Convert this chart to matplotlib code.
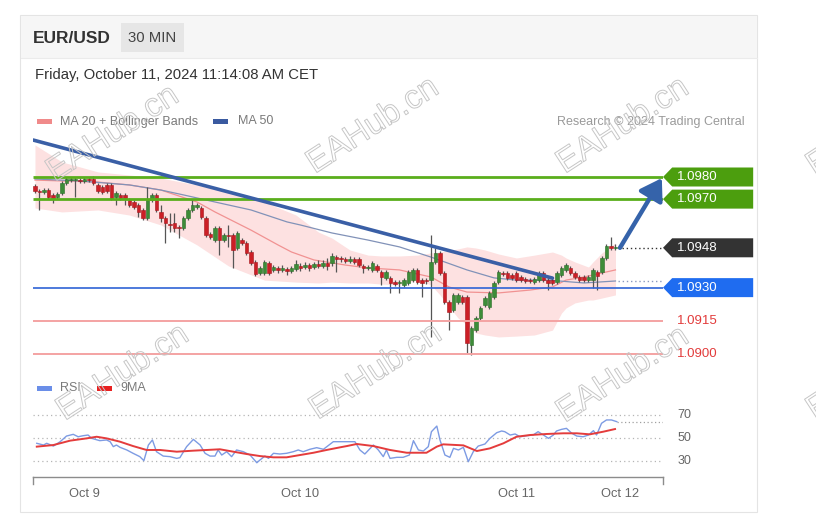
import matplotlib
matplotlib.use('Agg')
import matplotlib.pyplot as plt
from matplotlib.patches import Rectangle, Polygon, FancyArrowPatch
import matplotlib.patheffects as pe
import numpy as np

plt.rcParams['font.family'] = ['Liberation Sans', 'DejaVu Sans']

# ---------------- data (30-min EUR/USD candles, Oct 8 18:30 -> Oct 11 11:00) ----------------
opens = [1.09759, 1.09737, 1.09732, 1.09741, 1.09719, 1.09710, 1.09728, 1.09773, 1.09786, 1.09786,
         1.09786, 1.09782, 1.09791, 1.09791, 1.09764, 1.09755, 1.09764, 1.09764, 1.09710, 1.09719,
         1.09719, 1.09696, 1.09687, 1.09673, 1.09651, 1.09615, 1.09696, 1.09719, 1.09642, 1.09615,
         1.09588, 1.09592, 1.09574, 1.09570, 1.09615, 1.09651, 1.09664, 1.09660, 1.09615, 1.09542,
         1.09515, 1.09570, 1.09515, 1.09538, 1.09538, 1.09479, 1.09515, 1.09502, 1.09461, 1.09416,
         1.09366, 1.09366, 1.09411, 1.09380, 1.09389, 1.09380, 1.09384, 1.09375, 1.09384, 1.09398,
         1.09393, 1.09402, 1.09393, 1.09407, 1.09398, 1.09411, 1.09411, 1.09438, 1.09434, 1.09429,
         1.09420, 1.09429, 1.09429, 1.09398, 1.09389, 1.09380, 1.09398, 1.09371, 1.09344, 1.09344,
         1.09325, 1.09321, 1.09312, 1.09321, 1.09334, 1.09380, 1.09334, 1.09334, 1.09334, 1.09416,
         1.09457, 1.09366, 1.09235, 1.09199, 1.09235, 1.09258, 1.09258, 1.09041, 1.09108, 1.09163,
         1.09221, 1.09212, 1.09258, 1.09325, 1.09366, 1.09366, 1.09357, 1.09366, 1.09348, 1.09339,
         1.09334, 1.09325, 1.09334, 1.09366, 1.09334, 1.09334, 1.09325, 1.09357, 1.09380, 1.09389,
         1.09366, 1.09348, 1.09348, 1.09334, 1.09334, 1.09371, 1.09371, 1.09434, 1.09488, 1.09479]
closes = [1.09737, 1.09732, 1.09741, 1.09710, 1.09705, 1.09723, 1.09773, 1.09791, 1.09791, 1.09791,
          1.09782, 1.09791, 1.09786, 1.09773, 1.09737, 1.09732, 1.09737, 1.09705, 1.09728, 1.09705,
          1.09705, 1.09673, 1.09664, 1.09642, 1.09615, 1.09696, 1.09719, 1.09651, 1.09615, 1.09592,
          1.09583, 1.09570, 1.09570, 1.09615, 1.09651, 1.09673, 1.09673, 1.09619, 1.09538, 1.09529,
          1.09570, 1.09515, 1.09538, 1.09533, 1.09470, 1.09547, 1.09502, 1.09457, 1.09411, 1.09362,
          1.09389, 1.09416, 1.09366, 1.09393, 1.09380, 1.09389, 1.09375, 1.09389, 1.09407, 1.09389,
          1.09402, 1.09389, 1.09407, 1.09398, 1.09411, 1.09398, 1.09443, 1.09429, 1.09429, 1.09420,
          1.09429, 1.09416, 1.09402, 1.09389, 1.09393, 1.09411, 1.09380, 1.09348, 1.09371, 1.09321,
          1.09316, 1.09325, 1.09334, 1.09371, 1.09380, 1.09325, 1.09321, 1.09330, 1.09416, 1.09457,
          1.09366, 1.09235, 1.09190, 1.09267, 1.09267, 1.09235, 1.09050, 1.09118, 1.09163, 1.09208,
          1.09253, 1.09276, 1.09321, 1.09371, 1.09362, 1.09344, 1.09344, 1.09334, 1.09334, 1.09330,
          1.09330, 1.09339, 1.09366, 1.09334, 1.09321, 1.09321, 1.09366, 1.09389, 1.09402, 1.09366,
          1.09348, 1.09334, 1.09334, 1.09348, 1.09380, 1.09353, 1.09434, 1.09488, 1.09479, 1.09480]
highs = [1.09768, 1.09746, 1.09750, 1.09750, 1.09728, 1.09732, 1.09782, 1.09800, 1.09800, 1.09800,
         1.09795, 1.09800, 1.09800, 1.09805, 1.09773, 1.09764, 1.09773, 1.09773, 1.09737, 1.09728,
         1.09728, 1.09705, 1.09696, 1.09683, 1.09660, 1.09755, 1.09728, 1.09728, 1.09673, 1.09624,
         1.09637, 1.09637, 1.09583, 1.09624, 1.09660, 1.09696, 1.09683, 1.09669, 1.09624, 1.09551,
         1.09579, 1.09579, 1.09547, 1.09583, 1.09547, 1.09556, 1.09524, 1.09511, 1.09470, 1.09425,
         1.09398, 1.09425, 1.09420, 1.09402, 1.09398, 1.09402, 1.09393, 1.09398, 1.09425, 1.09411,
         1.09416, 1.09411, 1.09416, 1.09425, 1.09425, 1.09434, 1.09457, 1.09447, 1.09443, 1.09438,
         1.09443, 1.09438, 1.09438, 1.09407, 1.09402, 1.09420, 1.09407, 1.09380, 1.09380, 1.09353,
         1.09334, 1.09334, 1.09344, 1.09380, 1.09389, 1.09389, 1.09344, 1.09344, 1.09538, 1.09479,
         1.09466, 1.09375, 1.09244, 1.09276, 1.09276, 1.09267, 1.09267, 1.09127, 1.09172, 1.09217,
         1.09262, 1.09285, 1.09330, 1.09380, 1.09375, 1.09375, 1.09366, 1.09375, 1.09357, 1.09348,
         1.09344, 1.09348, 1.09375, 1.09375, 1.09344, 1.09344, 1.09375, 1.09398, 1.09411, 1.09398,
         1.09375, 1.09357, 1.09357, 1.09357, 1.09389, 1.09380, 1.09443, 1.09497, 1.09529, 1.09497]
lows = [1.09728, 1.09651, 1.09723, 1.09701, 1.09683, 1.09701, 1.09719, 1.09764, 1.09777, 1.09710,
        1.09773, 1.09773, 1.09777, 1.09764, 1.09728, 1.09723, 1.09728, 1.09696, 1.09673, 1.09696,
        1.09673, 1.09664, 1.09655, 1.09619, 1.09606, 1.09606, 1.09687, 1.09642, 1.09597, 1.09502,
        1.09551, 1.09551, 1.09524, 1.09560, 1.09606, 1.09642, 1.09655, 1.09610, 1.09529, 1.09520,
        1.09506, 1.09447, 1.09506, 1.09484, 1.09389, 1.09470, 1.09493, 1.09447, 1.09402, 1.09353,
        1.09357, 1.09357, 1.09357, 1.09371, 1.09366, 1.09371, 1.09357, 1.09366, 1.09375, 1.09375,
        1.09384, 1.09375, 1.09384, 1.09389, 1.09389, 1.09380, 1.09398, 1.09371, 1.09416, 1.09411,
        1.09411, 1.09407, 1.09393, 1.09366, 1.09380, 1.09371, 1.09371, 1.09312, 1.09334, 1.09276,
        1.09307, 1.09276, 1.09303, 1.09312, 1.09325, 1.09316, 1.09258, 1.09316, 1.09077, 1.09407,
        1.09357, 1.09226, 1.09108, 1.09190, 1.09226, 1.09226, 1.09005, 1.08995, 1.09099, 1.09154,
        1.09212, 1.09203, 1.09249, 1.09316, 1.09353, 1.09334, 1.09334, 1.09325, 1.09325, 1.09321,
        1.09321, 1.09316, 1.09325, 1.09325, 1.09289, 1.09312, 1.09316, 1.09348, 1.09371, 1.09357,
        1.09339, 1.09325, 1.09325, 1.09325, 1.09298, 1.09289, 1.09362, 1.09425, 1.09470, 1.09470]

# indicator traces (bar position -> value)
band_x = [0, 6, 14, 21, 28, 36, 43, 51, 58, 63, 66, 70, 74, 77, 81, 85, 88, 90, 94, 96, 98, 100,
          103, 107, 111, 115, 117, 118, 120, 123, 124, 126, 129]
band_upper = [1.09945, 1.09868, 1.09823, 1.09809, 1.09795, 1.09764, 1.09732, 1.09687, 1.09628,
              1.09551, 1.09524, 1.09470, 1.09447, 1.09443, 1.09443, 1.09447, 1.09457, 1.09461,
              1.09475, 1.09484, 1.09479, 1.09470, 1.09452, 1.09434, 1.09447, 1.09461, 1.09447,
              1.09434, 1.09416, 1.09393, 1.09416, 1.09457, 1.09502]
band_lower = [1.09660, 1.09642, 1.09651, 1.09628, 1.09583, 1.09493, 1.09398, 1.09334, 1.09325,
              1.09321, 1.09325, 1.09321, 1.09321, 1.09316, 1.09312, 1.09334, 1.09312, 1.09267,
              1.09163, 1.09131, 1.09095, 1.09086, 1.09077, 1.09081, 1.09086, 1.09108, 1.09185,
              1.09208, 1.09231, 1.09244, 1.09244, 1.09253, 1.09267]
ma20_x = [0, 14, 21, 28, 36, 40, 48, 54, 57, 62, 69, 74, 81, 88, 92, 96, 103, 110, 115, 118, 122, 129]
ma20 = [1.09786, 1.09777, 1.09764, 1.09741, 1.09687, 1.09642, 1.09560, 1.09493, 1.09461, 1.09425,
        1.09402, 1.09389, 1.09380, 1.09348, 1.09303, 1.09280, 1.09276, 1.09289, 1.09303, 1.09334,
        1.09348, 1.09380]
ma50_x = [0, 10, 21, 28, 33, 40, 48, 56, 59, 66, 74, 81, 88, 96, 102, 107, 114, 122, 129]
ma50 = [1.09791, 1.09782, 1.09764, 1.09741, 1.09719, 1.09687, 1.09651, 1.09597, 1.09583, 1.09547,
        1.09515, 1.09484, 1.09438, 1.09380, 1.09344, 1.09334, 1.09334, 1.09321, 1.09330]
trend_x = [-0.4, 115.0]
trend_y = [1.09967, 1.09343]
levels_green = [1.0980, 1.0970]
level_blue = 1.0930
levels_red = [1.0915, 1.0900]
last_price = 1.0948
target_price = 1.0980

rsi_x = [0.4, 1.9, 2.6, 4.1, 5.6, 7.0, 8.5, 9.6, 10.7, 11.8, 12.6, 14.4, 15.9, 16.7, 17.4, 18.1,
         18.9, 20.4, 21.8, 23.3, 24.2, 25.2, 26.1, 27.0, 28.5, 30.0, 31.5, 32.2, 33.7, 35.2, 36.7,
         37.8, 38.9, 40.0, 40.7, 41.5, 42.6, 43.7, 44.8, 46.3, 47.8, 49.3, 50.0, 51.1, 51.9, 53.0,
         54.4, 55.9, 57.4, 58.5, 59.6, 61.1, 62.6, 64.1, 66.3, 67.8, 69.6, 71.1, 72.2, 73.3, 75.2,
         76.3, 77.4, 78.1, 78.9, 80.4, 81.8, 83.2, 84.1, 85.2, 86.3, 87.4, 88.1, 89.3, 90.0, 91.1,
         92.2, 93.0, 94.1, 95.2, 96.3, 97.4, 98.5, 100.0, 101.1, 102.6, 103.7, 104.4, 105.6, 106.7,
         107.8, 109.3, 110.7, 111.8, 113.0, 114.1, 115.2, 115.9, 117.0, 118.1, 119.3, 120.4, 121.8,
         123.0, 124.1, 124.8, 125.9, 127.0, 128.1, 129.3]
rsi = [45.4, 43.9, 45.4, 43.0, 46.8, 51.7, 53.2, 51.1, 52.0, 52.6, 49.7, 47.7, 48.3, 46.8, 42.5, 43.9,
       41.9, 39.6, 36.7, 33.8, 30.3, 43.9, 48.3, 38.1, 34.3, 33.8, 32.3, 32.9, 42.5, 48.8, 43.9,
       36.7, 34.3, 34.3, 39.6, 35.2, 38.1, 33.8, 39.6, 38.1, 35.2, 28.5, 30.9, 34.3, 32.3, 36.7,
       36.1, 36.7, 38.1, 39.6, 38.1, 40.2, 41.6, 40.2, 46.8, 46.8, 46.8, 46.8, 39.6, 36.1, 43.9,
       39.6, 33.8, 39.6, 32.3, 33.2, 33.2, 35.2, 47.7, 39.6, 38.7, 42.5, 55.5, 60.4, 48.3, 35.2,
       33.2, 41.0, 39.6, 41.9, 29.4, 38.1, 43.0, 44.8, 49.7, 54.6, 56.1, 55.5, 52.6, 53.5,
       51.1, 52.0, 52.6, 55.5, 52.6, 49.7, 52.6, 56.1, 57.5, 58.4, 54.1, 51.7, 51.1,
       52.6, 56.4, 52.6, 62.8, 65.7, 65.7, 64.2]
ma9_x = [0.4, 4.1, 7.8, 11.5, 13.7, 15.9, 18.9, 21.8, 24.8, 27.8, 31.5, 35.2, 38.2, 41.1, 44.1,
         47.0, 50.0, 53.0, 55.9, 58.9, 61.9, 64.8, 67.8, 69.3, 71.5, 75.2, 78.9, 82.6, 87.0, 89.3,
         90.7, 95.2, 98.2, 101.1, 104.1, 107.0, 110.0, 113.7, 117.4, 120.4, 123.3, 126.3, 128.9]
ma9 = [42.5, 43.9, 47.7, 49.7, 51.1, 49.7, 46.8, 43.0, 39.6, 39.6, 38.1, 39.0, 39.6, 40.2, 38.1,
       36.1, 34.3, 33.2, 33.2, 35.2, 37.2, 39.6, 41.9, 43.0, 44.8, 43.0, 39.6, 37.2, 37.2, 42.5,
       44.5, 43.6, 38.7, 41.0, 45.4, 51.1, 52.6, 53.5, 54.1, 54.1, 53.2, 55.5, 57.8]
rsi_levels = [30, 50, 70]
tick_pos = [11, 59, 107, 130]
tick_labels = ['Oct 9', 'Oct 10', 'Oct 11', 'Oct 12']

# ---------------- figure ----------------
W, H = 816, 518
fig = plt.figure(figsize=(W / 100, H / 100), dpi=100)
fig.patch.set_facecolor('white')


def fr(x0, y0, x1, y1):
    return [x0 / W, 1 - y1 / H, (x1 - x0) / W, (y1 - y0) / H]


bg = fig.add_axes([0, 0, 1, 1], zorder=0)
bg.set_xlim(0, W)
bg.set_ylim(H, 0)
bg.axis('off')

# card + header
bg.add_patch(Rectangle((20, 15), 737, 497, facecolor='white', edgecolor='#e4e4e4', lw=0.8))
bg.add_patch(Rectangle((20.5, 15.5), 736, 42.5, facecolor='#f6f6f6', edgecolor='none'))
bg.plot([20.5, 756.5], [58, 58], color='#ebebeb', lw=0.8)
bg.add_patch(Rectangle((121, 23), 63, 29, facecolor='#e6e6e6', edgecolor='none'))
bg.text(33, 38.5, 'EUR/USD', fontsize=12.5, fontweight='bold', color='#333333', va='center', ha='left')
bg.text(152.5, 38.5, '30 MIN', fontsize=10.7, color='#444444', va='center', ha='center')
bg.text(35, 75, 'Friday, October 11, 2024 11:14:08 AM CET', fontsize=10.7, color='#333333',
        va='center', ha='left')

# legends
bg.add_patch(Rectangle((37, 118.5), 15, 5, facecolor='#f08a8a', edgecolor='none'))
bg.text(60, 121.5, 'MA 20 + Bollinger Bands', fontsize=9, color='#7a7a7a', va='center')
bg.add_patch(Rectangle((213, 118.5), 15, 5, facecolor='#3a5aa0', edgecolor='none'))
bg.text(238, 121.5, 'MA 50', fontsize=9, color='#7a7a7a', va='center')
bg.text(745, 121.5, 'Research © 2024 Trading Central', fontsize=9, color='#9a9a9a', va='center', ha='right')
bg.add_patch(Rectangle((37, 385.5), 15, 5, facecolor='#6a8ee8', edgecolor='none'))
bg.text(60, 388, 'RSI', fontsize=9, color='#7a7a7a', va='center')
bg.add_patch(Rectangle((97, 385.5), 15, 5, facecolor='#e82020', edgecolor='none'))
bg.text(120, 388, '9MA', fontsize=9, color='#7a7a7a', va='center')

# ---------------- price panel ----------------
XL = (-0.44, 139.56)
ax = fig.add_axes(fr(33, 135, 663, 365), zorder=1)
ax.set_facecolor('none')
ax.set_xlim(*XL)
ax.set_ylim(1.089503, 1.099898)
ax.axis('off')

ax.fill_between(band_x, band_lower, band_upper, color='#fde1e1', lw=0, zorder=1)
ax.plot(ma20_x, ma20, color='#f19292', lw=0.9, zorder=2)
ax.plot(ma50_x, ma50, color='#8192b8', lw=0.9, zorder=2)

o = np.array(opens)
c = np.array(closes)
hi = np.array(highs)
lo = np.array(lows)
x = np.arange(len(c))
up = c >= o
ax.vlines(x, lo, hi, color='#555555', lw=0.9, zorder=3)
body_b = np.minimum(o, c)
body_h = np.maximum(np.abs(c - o), 0.00003)
ax.bar(x, body_h, bottom=body_b, width=0.86,
       color=np.where(up, '#3d8c38', '#cc1f26'),
       edgecolor=np.where(up, '#2b6e28', '#a3151b'), lw=0.4, zorder=4)

for lv in levels_green:
    ax.hlines(lv, XL[0], XL[1], colors='#5aae1c', lw=2.0, zorder=5)
ax.hlines(level_blue, XL[0], XL[1], colors='#2f64d6', lw=1.2, zorder=5)
for lv in levels_red:
    ax.hlines(lv, XL[0], XL[1], colors='#f4a3a3', lw=1.4, zorder=5)

ax.plot(trend_x, trend_y, color='#3a5fa6', lw=2.6, solid_capstyle='round', zorder=6)

ax.hlines(last_price, 130.4, XL[1], colors='#333333', linestyles=(0, (1, 2)), lw=1, zorder=5)
ax.hlines(ma50[-1], 129.5, XL[1], colors='#8a9ac0', linestyles=(0, (1, 2)), lw=1, zorder=5)

arr = FancyArrowPatch((130.0, last_price), (139.3, target_price - 0.00005),
                      arrowstyle='-|>,head_length=0.7,head_width=0.45', mutation_scale=18,
                      color='#3563aa', lw=3.2, shrinkA=0, shrinkB=0, zorder=7)
ax.add_patch(arr)

# right-hand price tags
hh = 9.5 / 22125
xa, xb, xc = 139.56, 141.6, 159.6
xt = 142.7


def tag(p, color):
    poly = Polygon([(xa, p), (xb, p + hh), (xc, p + hh), (xc, p - hh), (xb, p - hh)],
                   closed=True, facecolor=color, edgecolor='none', clip_on=False, zorder=8)
    ax.add_patch(poly)
    ax.text(xt, p, f'{p:.4f}', color='white', fontsize=9.5, va='center', ha='left',
            clip_on=False, zorder=9)


for lv in levels_green:
    tag(lv, '#4c9e0e')
tag(last_price, '#333333')
tag(level_blue, '#1f6cf0')
for lv in levels_red:
    ax.text(xt, lv, f'{lv:.4f}', color='#e23b3b', fontsize=9.5, va='center', ha='left', clip_on=False)

# ---------------- RSI panel ----------------
rx = fig.add_axes(fr(33, 395, 663, 477), zorder=1)
rx.set_facecolor('none')
rx.set_xlim(*XL)
rx.set_ylim(16.1, 87.4)
for s in ['top', 'left', 'right']:
    rx.spines[s].set_visible(False)
rx.spines['bottom'].set_color('#8c8c8c')
rx.spines['bottom'].set_linewidth(1.0)
rx.set_yticks([])
rx.set_xticks(tick_pos)
rx.set_xticklabels(tick_labels)
rx.tick_params(axis='x', length=0, pad=8, labelsize=9.3, labelcolor='#666666')
rx.plot([XL[0], XL[0]], [16.1, 16.1 - 6.0], color='#8c8c8c', lw=1.0, clip_on=False)
rx.plot([XL[1], XL[1]], [16.1, 16.1 - 6.0], color='#8c8c8c', lw=1.0, clip_on=False)

rx.hlines(rsi_levels, XL[0], XL[1], colors='#b5b5b5', linestyles=(0, (1, 2.5)), lw=0.9)
for lv in rsi_levels:
    rx.text(xt, lv, str(lv), color='#666666', fontsize=9, va='center', ha='left', clip_on=False)
rx.plot(rsi_x, rsi, color='#7d9be3', lw=1.0, zorder=3)
rx.plot(ma9_x, ma9, color='#e43c3c', lw=1.4, zorder=4)
rx.hlines(rsi[-1], rsi_x[-1], XL[1], colors='#a0a0a0', linestyles=(0, (1, 2)), lw=0.9)

# ---------------- watermarks ----------------
ov = fig.add_axes([0, 0, 1, 1], zorder=10)
ov.set_xlim(0, W)
ov.set_ylim(H, 0)
ov.axis('off')
ov.patch.set_alpha(0)
for (cx, cy) in [(113, 134), (373, 126), (623, 126), (873, 128),
                 (123, 373), (376, 372), (623, 375), (873, 372)]:
    ov.text(cx, cy, 'EAHub.cn', rotation=33, ha='center', va='center', fontsize=24,
            color='none', path_effects=[pe.Stroke(linewidth=0.7, foreground='#c6c6c6')],
            clip_on=False)

fig.savefig('out.png', dpi=100)
